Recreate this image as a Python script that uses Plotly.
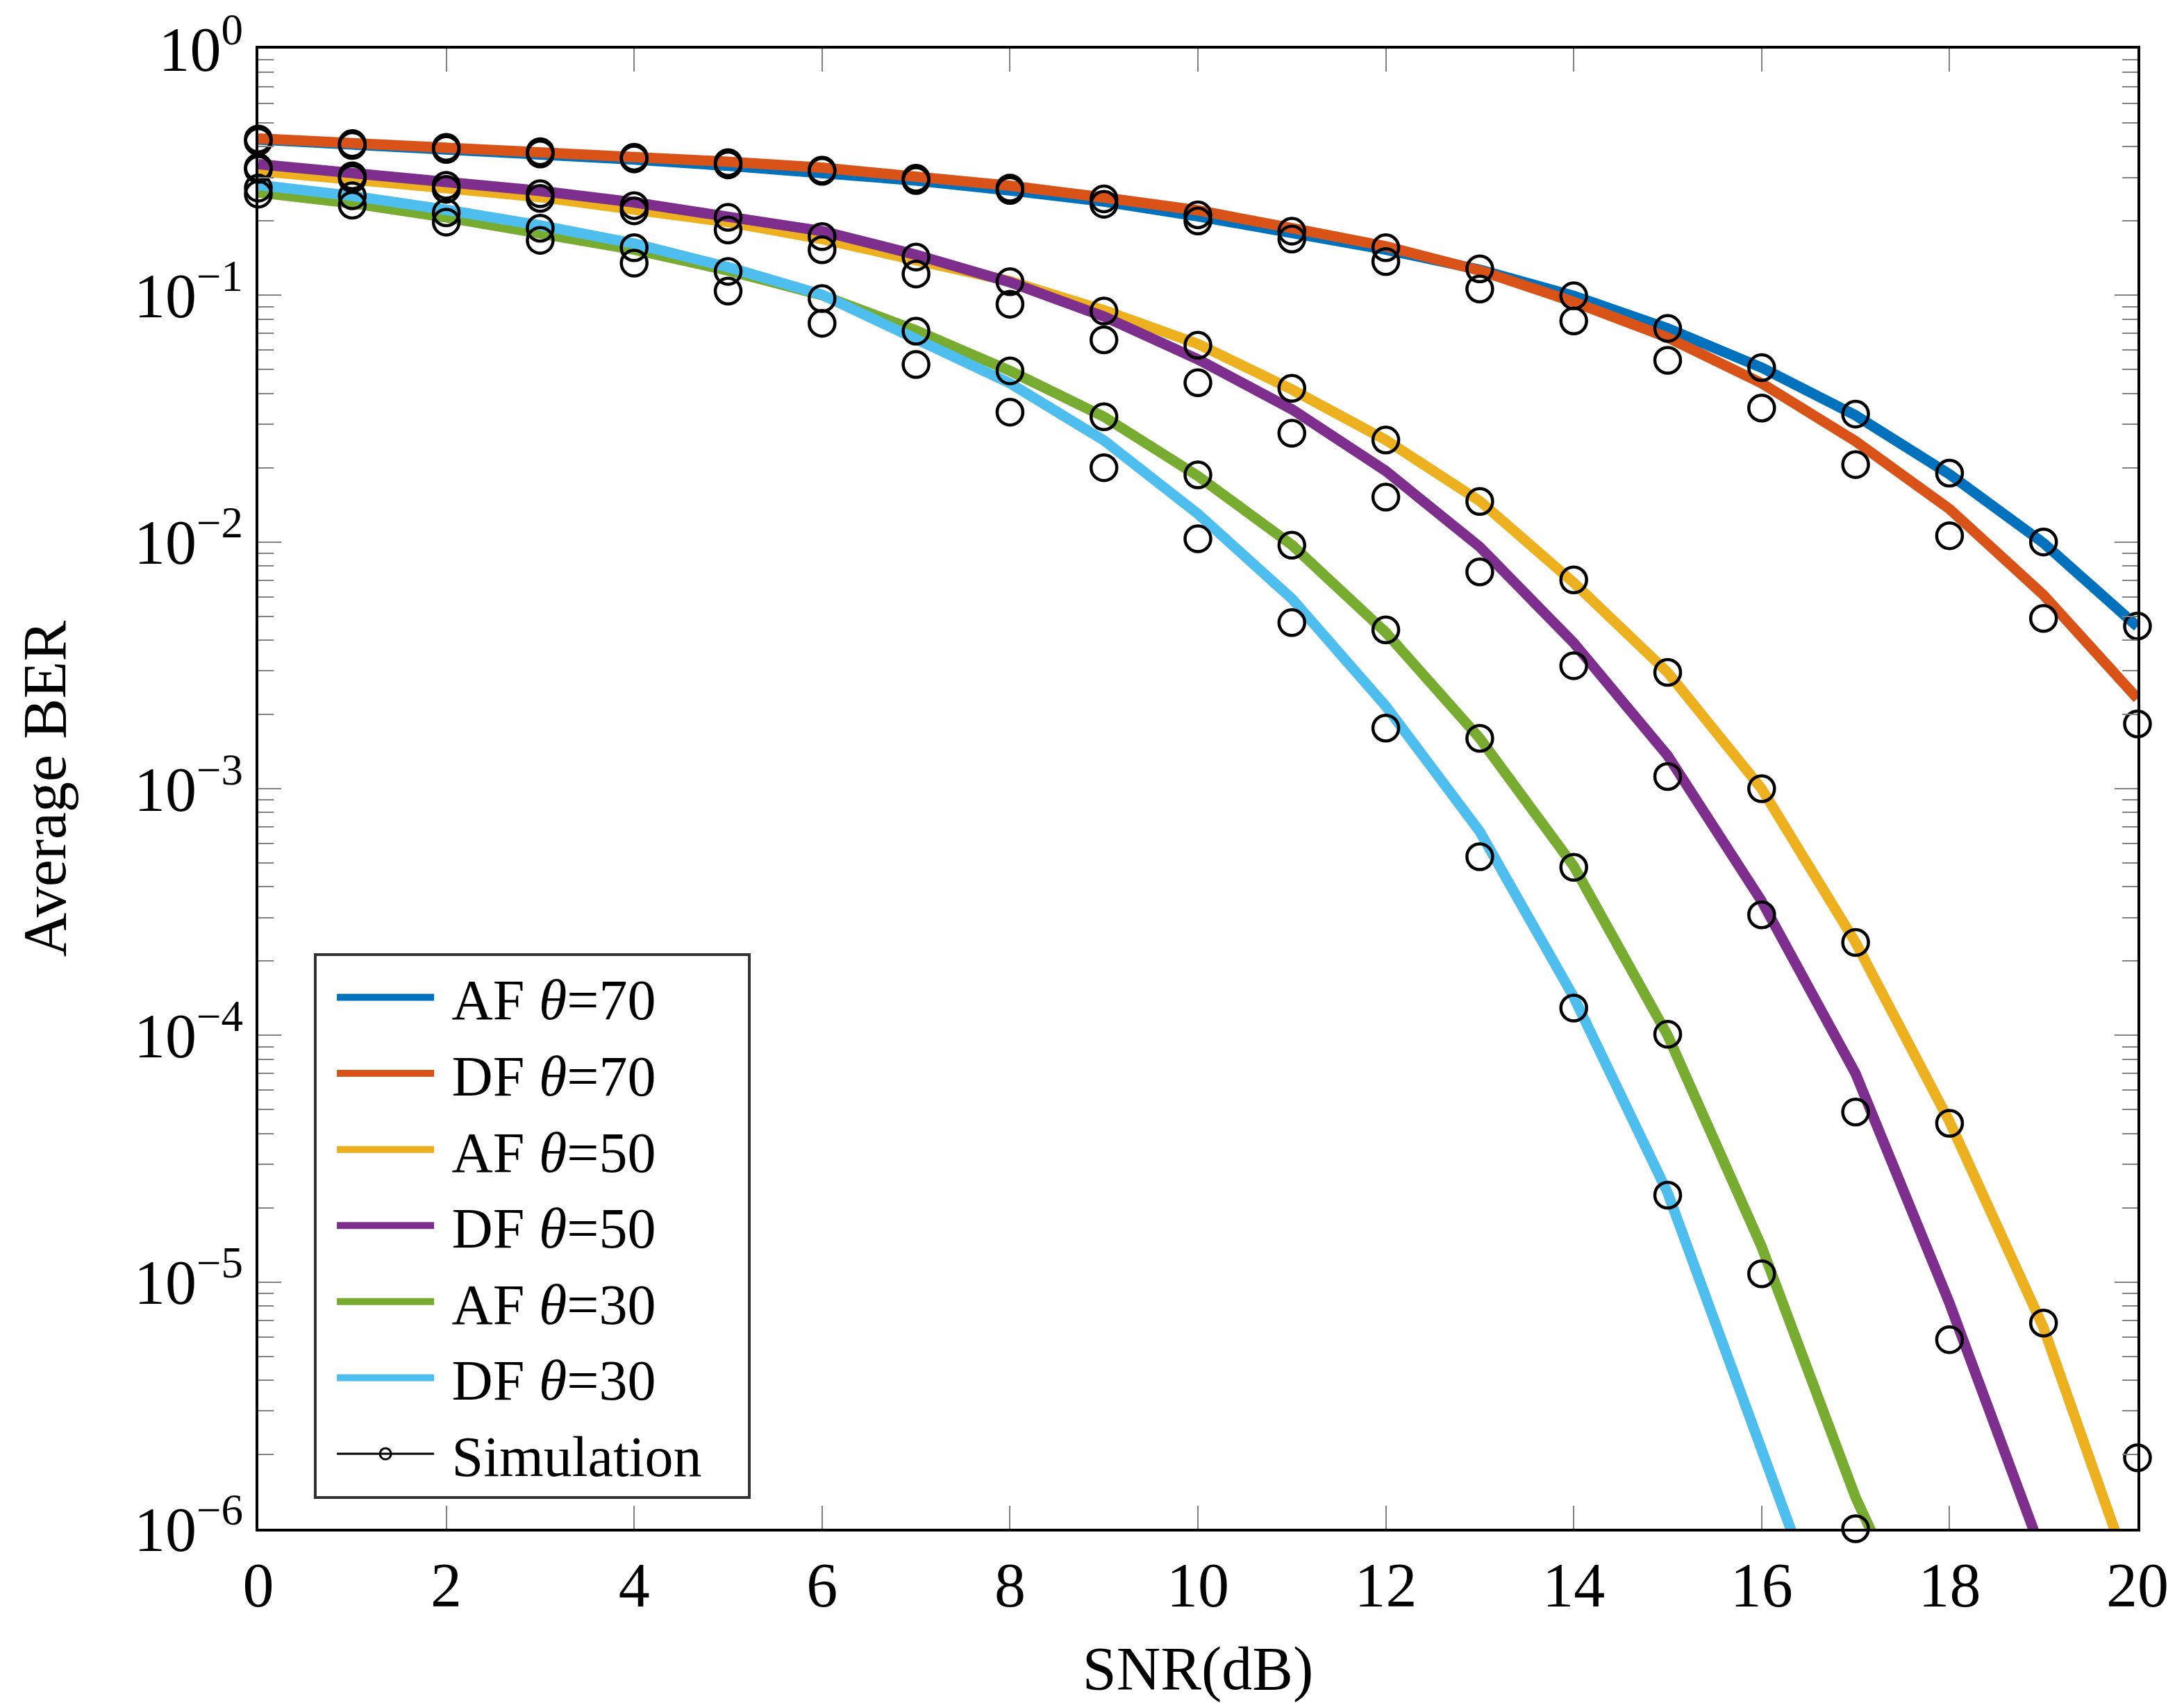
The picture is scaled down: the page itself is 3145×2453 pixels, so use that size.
import plotly.graph_objects as go

snr = list(range(21))

# theory curves (values below 1e-6 fall off the axis)
af70 = [0.428, 0.41, 0.392, 0.373, 0.355, 0.335, 0.316, 0.292, 0.266, 0.240, 0.209,
        0.179, 0.153, 0.127, 0.0995, 0.0734, 0.0509, 0.0326, 0.0188, 0.0099, 0.00454]
df70 = [0.432, 0.415, 0.398, 0.382, 0.367, 0.348, 0.329, 0.303, 0.278, 0.249, 0.221,
        0.187, 0.158, 0.126, 0.094, 0.0674, 0.044, 0.0256, 0.0136, 0.0061, 0.00232]
af50 = [0.319, 0.297, 0.272, 0.250, 0.224, 0.198, 0.169, 0.140, 0.114, 0.087, 0.0635,
        0.0415, 0.0259, 0.01466, 0.00684, 0.00296, 0.00100, 2.38e-4, 4.47e-5, 6.53e-6, 5.4e-7]
df50 = [0.340, 0.315, 0.288, 0.265, 0.238, 0.210, 0.182, 0.146, 0.113, 0.082, 0.055,
        0.0345, 0.0194, 0.00955, 0.0039, 0.00136, 3.5e-4, 7.0e-5, 8.2e-6, 7.7e-7, 5e-8]
af30 = [0.261, 0.236, 0.207, 0.179, 0.153, 0.126, 0.100, 0.072, 0.0494, 0.0322, 0.0185,
        0.00973, 0.0043, 0.0016, 4.85e-4, 1.0e-4, 1.39e-5, 1.34e-6, 2e-7, 1e-8, 1e-9]
df30 = [0.280, 0.253, 0.222, 0.192, 0.162, 0.130, 0.1005, 0.067, 0.044, 0.0258, 0.013,
        0.00589, 0.00216, 6.7e-4, 1.43e-4, 2.3e-5, 1.97e-6, 1.9e-7, 1e-8, 1e-9, 1e-10]

# simulation points (None = no error counted)
sim_af70 = [0.43, 0.412, 0.398, 0.382, 0.363, 0.345, 0.322, 0.298, 0.272, 0.246, 0.212,
            0.182, 0.156, 0.128, 0.0995, 0.0734, 0.0509, 0.033, 0.019, 0.0100, 0.00456]
sim_df70 = [0.42, 0.405, 0.39, 0.374, 0.357, 0.338, 0.318, 0.292, 0.266, 0.234, 0.200,
            0.169, 0.137, 0.106, 0.0787, 0.0545, 0.0349, 0.0206, 0.0106, 0.0049, 0.00183]
sim_af50 = [0.330, 0.305, 0.279, 0.258, 0.231, 0.207, 0.173, 0.143, 0.1135, 0.0863, 0.0627,
            0.042, 0.0259, 0.0146, 0.00702, 0.00296, 0.00100, 2.38e-4, 4.4e-5, 6.82e-6, 1.94e-6]
sim_df50 = [0.324, 0.297, 0.269, 0.247, 0.220, 0.184, 0.153, 0.122, 0.092, 0.066, 0.0442,
            0.0276, 0.0152, 0.00756, 0.00315, 0.00112, 3.08e-4, 4.89e-5, 5.84e-6, None, None]
sim_af30 = [0.272, 0.253, 0.216, 0.187, 0.156, 0.125, 0.097, 0.0715, 0.0494, 0.0322, 0.0187,
            0.0097, 0.0044, 0.0016, 4.8e-4, 1.01e-4, 1.08e-5, 1.0e-6, None, None, None]
sim_df30 = [0.257, 0.232, 0.198, 0.167, 0.135, 0.104, 0.077, 0.0524, 0.0336, 0.0200, 0.0103,
            0.00471, 0.00176, 5.3e-4, 1.29e-4, 2.25e-5, None, None, None, None, None]

names = ["AF <i>θ</i>=70", "DF <i>θ</i>=70", "AF <i>θ</i>=50",
         "DF <i>θ</i>=50", "AF <i>θ</i>=30", "DF <i>θ</i>=30"]
colors = ["#0072BD", "#D95319", "#EDB120", "#7E2F8E", "#77AC30", "#4DBEEE"]

ytick_vals = [1e-6, 1e-5, 1e-4, 1e-3, 1e-2, 1e-1, 1]
ytick_text = ["10<sup>−6</sup>", "10<sup>−5</sup>", "10<sup>−4</sup>", "10<sup>−3</sup>",
              "10<sup>−2</sup>", "10<sup>−1</sup>", "10<sup>0</sup>"]
yminor_vals = [m * 10.0 ** e for e in range(-6, 0) for m in range(2, 10)]

FONT = "Liberation Serif"
PAD = "\u00a0"

fig = go.Figure()
for name, col, ys in zip(names, colors, [af70, df70, af50, df50, af30, df30]):
    fig.add_trace(go.Scatter(x=snr, y=ys, mode="lines", name=PAD + name,
                             line=dict(color=col, width=15)))

for ys in [sim_af70, sim_df70, sim_af50, sim_df50, sim_af30, sim_df30]:
    fig.add_trace(go.Scatter(x=snr, y=ys, mode="markers", showlegend=False,
                             cliponaxis=False,
                             marker=dict(symbol="circle-open", size=37, color="black",
                                         line=dict(width=4.5, color="black"))))

# legend entry for simulation: line + circle
fig.add_trace(go.Scatter(x=[None], y=[None], mode="lines+markers",
                         name=PAD + "Simulation" + PAD * 3,
                         line=dict(color="black", width=3),
                         marker=dict(symbol="circle-open", size=16, color="black",
                                     line=dict(width=3, color="black"))))

fig.update_layout(
    width=3145, height=2453,
    template="simple_white",
    font=dict(family=FONT, size=86, color="black"),
    margin=dict(l=364, r=75, t=62, b=259),
    plot_bgcolor="white", paper_bgcolor="white",
    legend=dict(x=0.0296, y=0.389, xanchor="left", yanchor="top",
                bordercolor="#333333", borderwidth=4, bgcolor="white",
                font=dict(family=FONT, size=82), itemwidth=140,
                indentation=24, tracegroupgap=0),
)
fig.update_xaxes(range=[0, 20], dtick=2, tick0=0, automargin=False,
                 showline=True, linecolor="black", linewidth=4, mirror="ticks",
                 ticks="inside", ticklen=33, tickwidth=2, tickcolor="#808080",
                 showgrid=False, zeroline=False, ticklabeloverflow="allow",
                 tickfont=dict(family=FONT, size=90),
                 title=dict(text="SNR(dB)", font=dict(family=FONT, size=88), standoff=40))
fig.update_yaxes(type="log", range=[-6, 0], automargin=False,
                 tickmode="array", tickvals=ytick_vals, ticktext=ytick_text,
                 showline=True, linecolor="black", linewidth=4, mirror="ticks",
                 ticks="inside", ticklen=33, tickwidth=2, tickcolor="#808080",
                 minor=dict(tickmode="array", tickvals=yminor_vals, ticks="inside",
                            ticklen=22, tickwidth=2, tickcolor="#808080", showgrid=False),
                 showgrid=False, zeroline=False, ticklabeloverflow="allow",
                 tickfont=dict(family=FONT, size=90),
                 title=dict(text="Average BER", font=dict(family=FONT, size=88), standoff=70))

fig.write_html("out.html")
